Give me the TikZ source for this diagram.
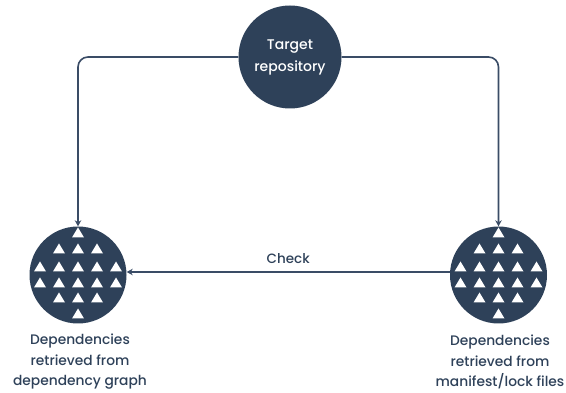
\documentclass[tikz,border=0pt]{standalone}
\usepackage{fontspec}
\setmainfont{Poppins}[UprightFont=* Medium, BoldFont=* SemiBold]
\usetikzlibrary{arrows.meta}
\definecolor{navy}{HTML}{2E4159}
\definecolor{linec}{HTML}{3A4C66}
\tikzset{
  hub/.style={circle, fill=navy, minimum size=103pt, inner sep=0pt, text=white, align=center, font=\fontsize{14}{22}\selectfont},
  depcircle/.style={circle, fill=navy, minimum size=97pt, inner sep=0pt},
  lbl/.style={text=navy, align=center, font=\fontsize{13.8}{20.5}\selectfont},
  conn/.style={draw=linec, line width=1.6pt, -{Stealth[length=6pt,width=6.5pt]}, rounded corners=10pt},
}
\begin{document}
\begin{tikzpicture}[x=1pt,y=-1pt]
\useasboundingbox (0,0) rectangle (566,393);
\node[hub] (target) at (290,57) {Target\\repository};
\node[depcircle] (graph) at (78,275) {};
\node[depcircle] (manifest) at (498.5,275) {};
\foreach \cx in {78,498.5}{
  \foreach \dx/\dy in {0/-42, -19/-26, 0/-26, 19/-26,
                       -38/-8, -19/-8, 0/-8, 19/-8, 38/-8,
                       -38/8, -19/8, 0/8, 19/8, 38/8,
                       -19/23, 0/23, 19/23, 0/39}{
    \fill[white] (\cx+\dx, 275+\dy-5.5) -- (\cx+\dx-6, 275+\dy+4.5) -- (\cx+\dx+6, 275+\dy+4.5) -- cycle;
  }
}
\draw[conn] (target.west) -| (graph.north);
\draw[conn] (target.east) -| (manifest.north);
\coordinate (cstart) at (manifest.west |- 0,272);
\coordinate (cend) at (graph.east |- 0,272);
\draw[conn] (cstart) -- node[above=4pt, text=navy, font=\fontsize{13.5}{15}\selectfont] (check) {Check} (cend);
\node[lbl] (graphlbl) at (80,362) {Dependencies\\retrieved from\\dependency graph};
\node[lbl] (manlbl) at (500,362) {Dependencies\\retrieved from\\manifest/lock files};
\end{tikzpicture}
\end{document}
